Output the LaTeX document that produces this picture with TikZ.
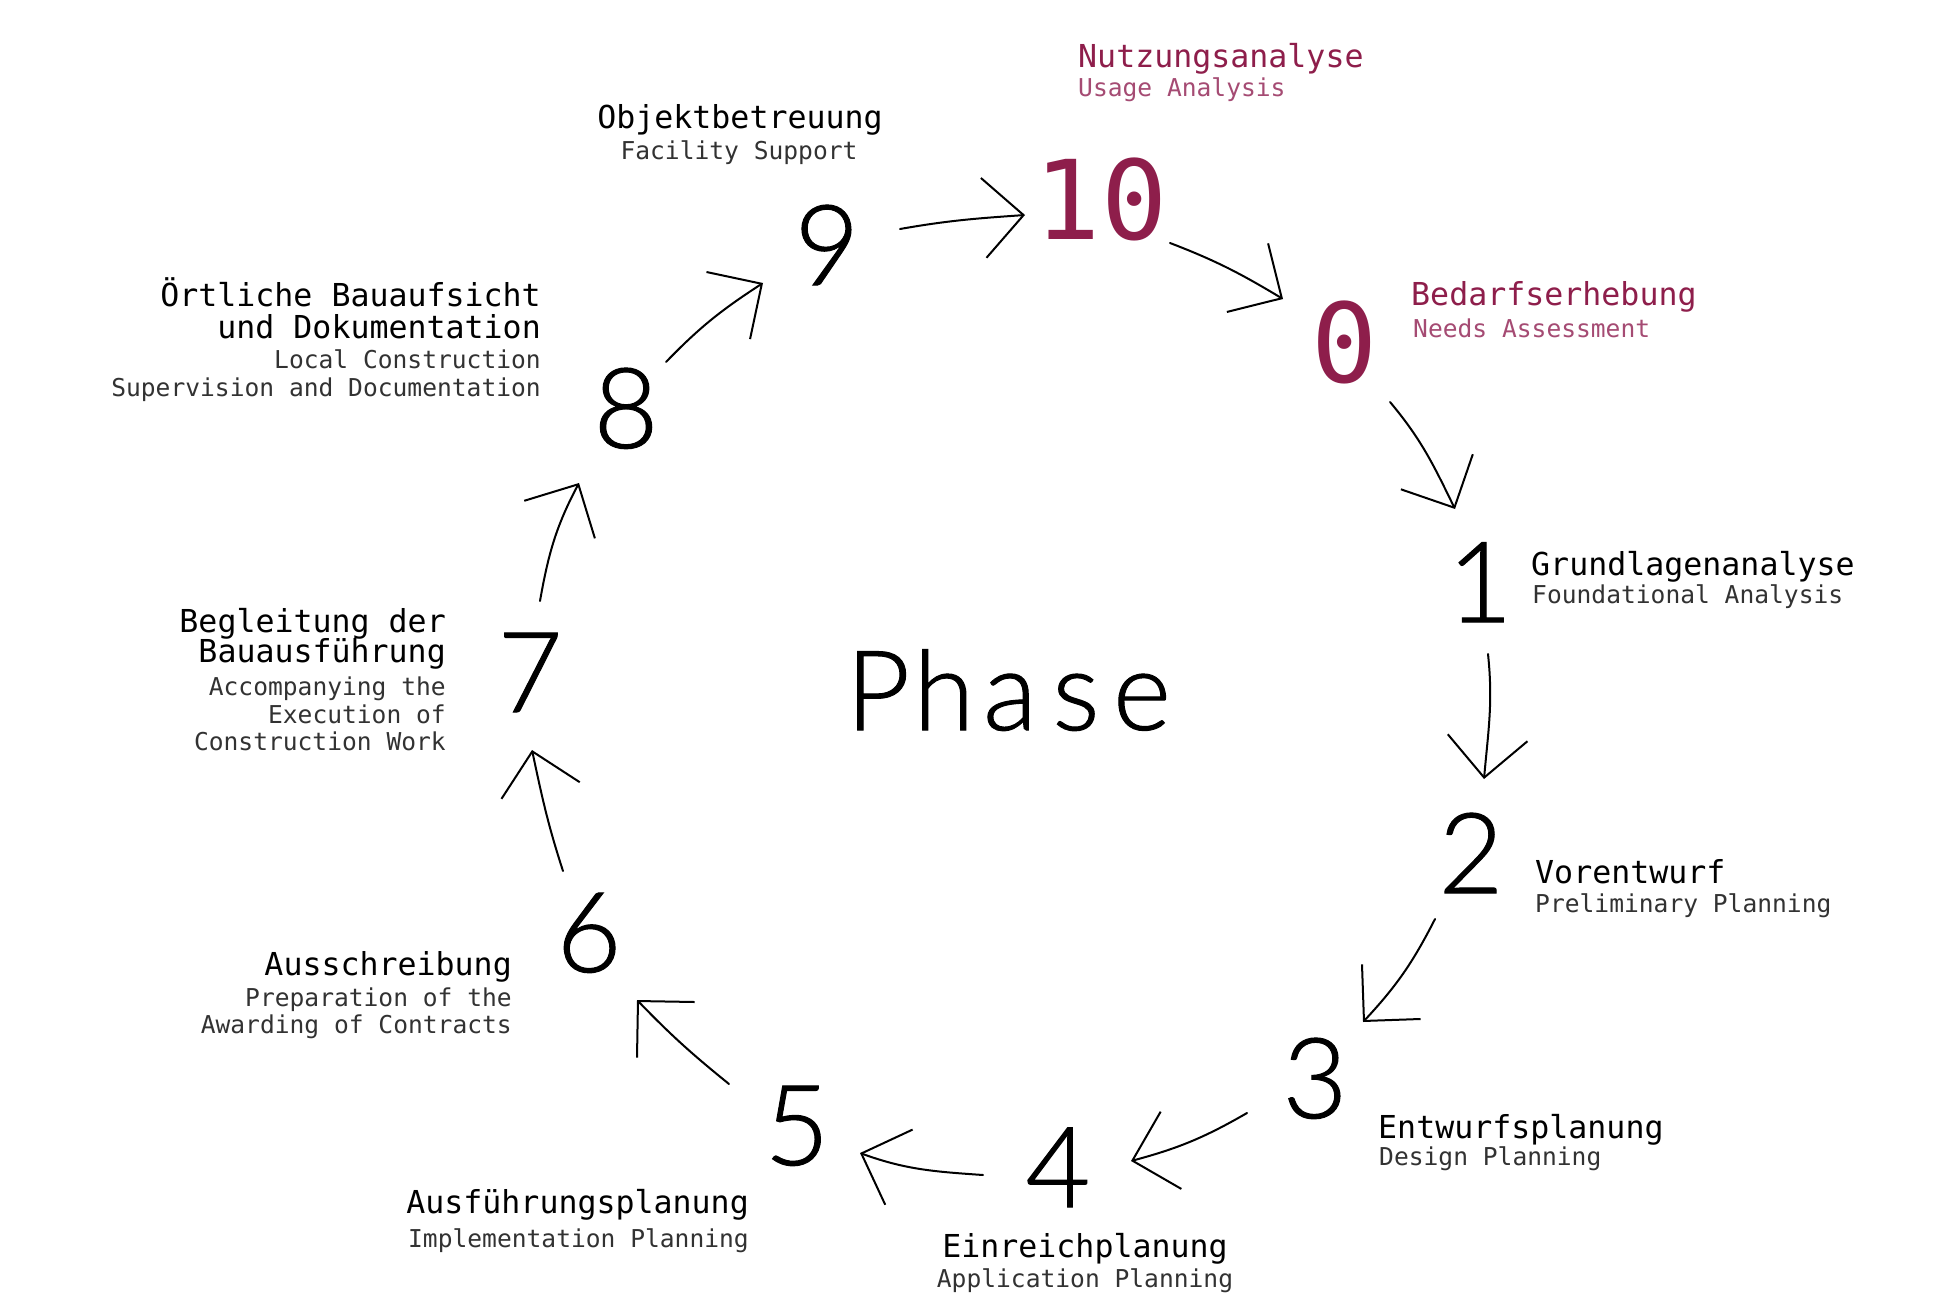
\documentclass[tikz,border=0pt]{standalone}
\usepackage{fontspec}
\usetikzlibrary{arrows.meta}
\newfontfamily\phmono{DejaVu Sans Mono}
\newfontfamily\phsans{Lato Light}[FakeBold=0.9]
\definecolor{phmaroon}{RGB}{142,30,75}
\definecolor{phmaroonlt}{RGB}{165,75,115}
\definecolor{subgray}{RGB}{50,50,50}
\newcommand{\phcell}[1]{\makebox[66pt]{#1}}
\begin{document}
\begin{tikzpicture}[x=1pt,y=1pt,
  ttl/.style={inner sep=0pt, font=\phmono\fontsize{31.6}{32}\selectfont},
  sub/.style={inner sep=0pt, text=subgray, font=\phmono\fontsize{24.6}{26}\selectfont},
  big/.style={inner sep=0pt, anchor=base, font=\phsans\fontsize{112}{112}\selectfont},
  bigm/.style={inner sep=0pt, anchor=base, text=phmaroon, font=\phmono\fontsize{110}{110}\selectfont},
  arr/.style={line width=2pt, line cap=round, -{Straight Barb[length=40pt,width=80pt]}},
]
\fill[white] (0,0) rectangle (1934,-1297);
\useasboundingbox (0,0) rectangle (1934,-1297);

% centre word
\node[inner sep=0pt, anchor=base, font=\phsans\fontsize{111}{111}\selectfont] (phase) at (1010,-730)
  {\phcell{P}\phcell{h}\phcell{a}\phcell{s}\phcell{e}};

% big numbers
\node[big]  (n9)  at (827,-285)  {9};
\node[bigm] (n10) at (1101,-240) {10};
\node[bigm] (n0)  at (1345,-382) {0};
\node[big]  (n1)  at (1480,-622) {1};
\node[big]  (n2)  at (1471,-893) {2};
\node[big]  (n3)  at (1315,-1118) {3};
\node[big]  (n4)  at (1058,-1207) {4};
\node[big]  (n5)  at (797,-1165) {5};
\node[big]  (n6)  at (589,-972) {6};
\node[big]  (n7)  at (530,-712) {7};
\node[big]  (n8)  at (626,-448) {8};

% labels
\node[ttl, anchor=base west, text=phmaroon] (l10a) at (1078,-68) {Nutzungsanalyse};
\node[sub, anchor=base west, text=phmaroonlt] (l10b) at (1078,-97) {Usage Analysis};

\node[ttl, anchor=base] (l9a) at (740,-129) {Objektbetreuung};
\node[sub, anchor=base] (l9b) at (739,-160) {Facility Support};

\node[ttl, anchor=base west, text=phmaroon] (l0a) at (1411,-305) {Bedarfserhebung};
\node[sub, anchor=base west, text=phmaroonlt] (l0b) at (1413,-337) {Needs Assessment};

\node[ttl, anchor=base west] (l1a) at (1531,-575) {Grundlagenanalyse};
\node[sub, anchor=base west] (l1b) at (1532,-603) {Foundational Analysis};

\node[ttl, anchor=base west] (l2a) at (1535,-883) {Vorentwurf};
\node[sub, anchor=base west] (l2b) at (1535,-912) {Preliminary Planning};

\node[ttl, anchor=base west] (l3a) at (1378,-1138) {Entwurfsplanung};
\node[sub, anchor=base west] (l3b) at (1379,-1165) {Design Planning};

\node[ttl, anchor=base] (l4a) at (1085,-1257) {Einreichplanung};
\node[sub, anchor=base] (l4b) at (1085,-1287) {Application Planning};

\node[ttl, anchor=base east] (l5a) at (749,-1213) {Ausführungsplanung};
\node[sub, anchor=base east] (l5b) at (749,-1247) {Implementation Planning};

\node[ttl, anchor=base east] (l6a) at (512,-975) {Ausschreibung};
\node[sub, anchor=base east] (l6b) at (512,-1006) {Preparation of the};
\node[sub, anchor=base east] (l6c) at (512,-1033) {Awarding of Contracts};

\node[ttl, anchor=base east] (l7a) at (446,-632) {Begleitung der};
\node[ttl, anchor=base east] (l7b) at (446,-662) {Bauausführung};
\node[sub, anchor=base east] (l7c) at (446,-695) {Accompanying the};
\node[sub, anchor=base east] (l7d) at (446,-723) {Execution of};
\node[sub, anchor=base east] (l7e) at (446,-750) {Construction Work};

\node[ttl, anchor=base east] (l8a) at (541,-306) {Örtliche Bauaufsicht};
\node[ttl, anchor=base east] (l8b) at (541,-338) {und Dokumentation};
\node[sub, anchor=base east] (l8c) at (541,-368) {Local Construction};
\node[sub, anchor=base east] (l8d) at (541,-396) {Supervision and Documentation};

% connector end points
\coordinate (s1) at (900,-229);   \coordinate (e1) at (1025,-215);
\coordinate (s2) at (1170,-243);  \coordinate (e2) at (1283,-299);
\coordinate (s3) at (1390,-402);  \coordinate (e3) at (1455,-509);
\coordinate (s4) at (1488,-654);  \coordinate (e4) at (1484,-779);
\coordinate (s5) at (1435,-919);  \coordinate (e5) at (1363,-1022);
\coordinate (s6) at (1247,-1113); \coordinate (e6) at (1131,-1161);
\coordinate (s7) at (983,-1175);  \coordinate (e7) at (860,-1153);
\coordinate (s8) at (729,-1084);  \coordinate (e8) at (637,-1000);
\coordinate (s9) at (563,-871);   \coordinate (e9) at (532,-750);
\coordinate (s10) at (540,-601);  \coordinate (e10) at (579,-483);
\coordinate (s11) at (666,-362);  \coordinate (e11) at (763,-283);

\draw[arr] (s1) to[out=10,in=184] (e1);
\draw[arr] (s2) to[out=-21,in=149] (e2);
\draw[arr] (s3) to[out=-50,in=116] (e3);
\draw[arr] (s4) to[out=-84,in=85] (e4);
\draw[arr] (s5) to[out=-117,in=47] (e5);
\draw[arr] (s6) to[out=-150,in=15] (e6);
\draw[arr] (s7) to[out=176,in=-20] (e7);
\draw[arr] (s8) to[out=141,in=-46] (e8);
\draw[arr] (s9) to[out=108,in=-78] (e9);
\draw[arr] (s10) to[out=80,in=-118] (e10);
\draw[arr] (s11) to[out=46,in=-147] (e11);
\end{tikzpicture}
\end{document}
